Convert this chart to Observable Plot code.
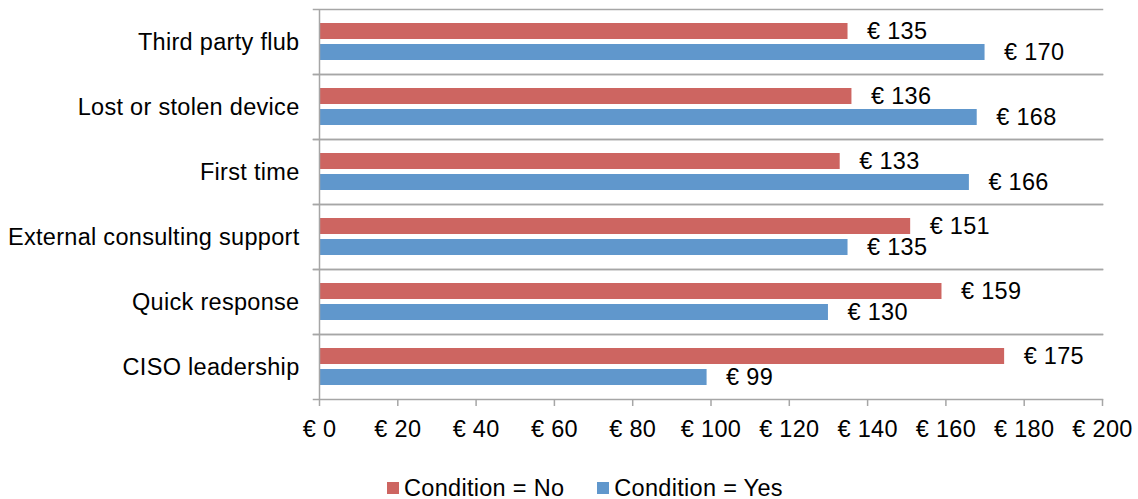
<!DOCTYPE html>
<html>
<head>
<meta charset="utf-8">
<script src="https://cdn.jsdelivr.net/npm/d3@7"></script>
<script src="https://cdn.jsdelivr.net/npm/@observablehq/plot@0.6"></script>
<style>
  body { margin: 0; background: #fff; font-family: "Liberation Sans", Arial, sans-serif; overflow: hidden; }
  #legend { display: flex; justify-content: flex-start; align-items: center; gap: 33px; padding-left: 387px; padding-top: 27px; height: 22px; font-size: 23.5px; letter-spacing: 0.3px; color: #000; line-height: 22px; }
  .item { display: flex; align-items: center; gap: 5px; }
  .sw { width: 12px; height: 12px; display: inline-block; }
  #chart svg text { letter-spacing: 0.3px; }
</style>
</head>
<body>
<div id="chart"></div>
<div id="legend"></div>
<script>
const categories = ["Third party flub", "Lost or stolen device", "First time", "External consulting support", "Quick response", "CISO leadership"];
const conditions = ["No", "Yes"];
const valuesNo = [135, 136, 133, 151, 159, 175];
const valuesYes = [170, 168, 166, 135, 130, 99];
const xTicks = [0, 20, 40, 60, 80, 100, 120, 140, 160, 180, 200];
const colors = ["#CD6561", "#6097CC"];

const data = [];
categories.forEach((c, i) => {
  data.push({category: c, condition: "No", value: valuesNo[i]});
  data.push({category: c, condition: "Yes", value: valuesYes[i]});
});

const grid = "#a6a6a6";
const fs = 23.5;
const chart = Plot.plot({
  width: 1138,
  height: 450,
  marginLeft: 319,
  marginRight: 36,
  marginTop: 7,
  marginBottom: 50,
  style: {fontSize: fs + "px", fontFamily: "Liberation Sans, Arial, sans-serif", color: "#000", background: "#fff"},
  x: {domain: [0, 200]},
  y: {domain: conditions, paddingInner: 0.227, paddingOuter: 0.602, axis: null},
  fy: {domain: categories, padding: 0},
  color: {domain: conditions, range: colors},
  marks: [
    Plot.frame({anchor: "top", stroke: grid, strokeWidth: 1.5, insetLeft: -6}),
    Plot.frame({anchor: "bottom", stroke: grid, strokeWidth: 1.5, insetLeft: -6}),
    Plot.barX(data, {x: "value", y: "condition", fy: "category", fill: "condition"}),
    Plot.ruleX([0], {stroke: grid, strokeWidth: 1.5}),
    Plot.text(data, {x: "value", y: "condition", fy: "category", text: d => "€ " + d.value, textAnchor: "start", dx: 19, fontSize: fs, fill: "#000"}),
    Plot.axisX({ticks: xTicks, tickSize: 7, tickPadding: 14, stroke: grid, strokeWidth: 1.5, tickFormat: d => "€ " + d, fontSize: fs, label: null, fill: "#000"}),
    Plot.axisFy({anchor: "left", tickSize: 0, tickPadding: 20, label: null, fontSize: fs, fill: "#000"})
  ]
});
document.getElementById("chart").appendChild(chart);

const legend = document.getElementById("legend");
conditions.forEach((c, i) => {
  const item = document.createElement("div");
  item.className = "item";
  const sw = document.createElement("span");
  sw.className = "sw";
  sw.style.background = colors[i];
  const t = document.createElement("span");
  t.textContent = "Condition = " + c;
  item.appendChild(sw);
  item.appendChild(t);
  legend.appendChild(item);
});
</script>
</body>
</html>
